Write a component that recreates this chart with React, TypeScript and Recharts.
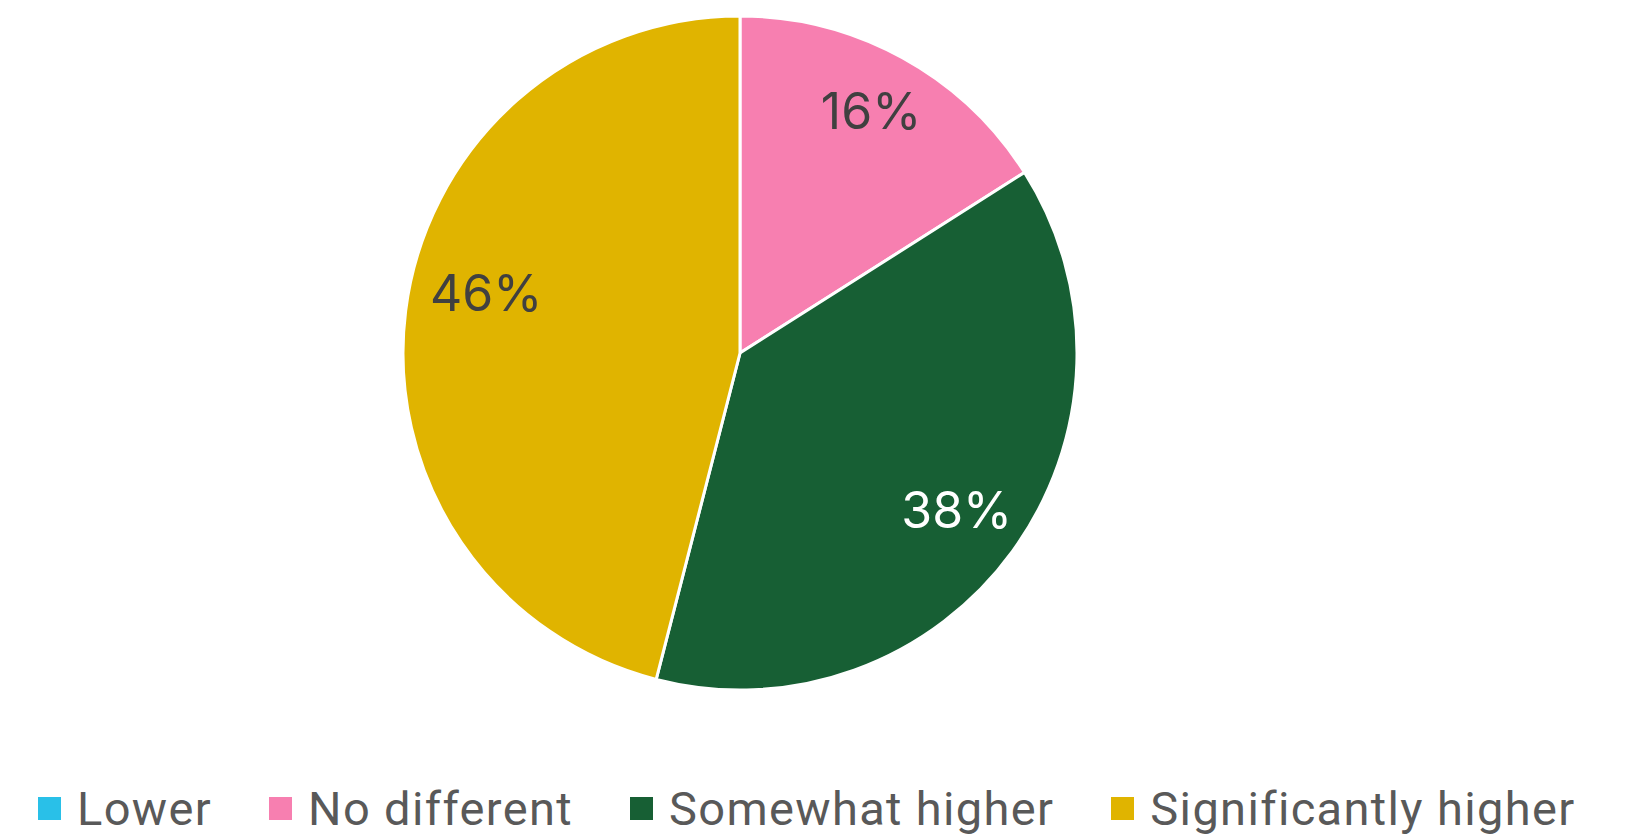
import { PieChart, Pie, Cell, Legend } from 'recharts';

const categories = ['Lower', 'No different', 'Somewhat higher', 'Significantly higher'];
const shares = [0, 16, 38, 46];
const colors = ['#29C0E8', '#F77FB0', '#175F34', '#E0B400'];
const labelColors = ['#404040', '#404040', '#FFFFFF', '#404040'];

const data = categories.map((name, i) => ({ name, value: shares[i] }));

// small nudges so the percentages sit where the original placed them
const labelNudge = [
  [0, 0],
  [2, -7],
  [0, 0],
  [12, -26],
];

const RADIAN = Math.PI / 180;

function renderLabel({ cx, cy, midAngle, outerRadius, value, index }: any) {
  if (!value) return null;
  const r = outerRadius * 0.795;
  const x = cx + r * Math.cos(-midAngle * RADIAN) + labelNudge[index][0];
  const y = cy + r * Math.sin(-midAngle * RADIAN) + labelNudge[index][1];
  return (
    <text
      x={x}
      y={y}
      fill={labelColors[index]}
      fontSize={50}
      fontFamily="Inter, 'Noto Sans', sans-serif"
      textAnchor="middle"
      dominantBaseline="central"
    >
      {value}%
    </text>
  );
}

function LegendContent() {
  return (
    <div style={{ display: 'flex', alignItems: 'center', gap: 57, paddingLeft: 38 }}>
      {categories.map((name, i) => (
        <div key={name} style={{ display: 'flex', alignItems: 'center' }}>
          <span style={{ width: 23, height: 23, background: colors[i], display: 'inline-block', marginRight: 16 }} />
          <span style={{ fontFamily: 'Roboto, sans-serif', fontSize: 47, color: '#595959', lineHeight: '47px', letterSpacing: 1.35 }}>
            {name}
          </span>
        </div>
      ))}
    </div>
  );
}

export default function App() {
  return (
    <div style={{ position: 'absolute', left: 0, top: 0, width: 1630, height: 834, background: '#fff', overflow: 'hidden' }}>
      <PieChart width={1630} height={834} margin={{ top: 0, right: 0, bottom: 0, left: 0 }}>
        <Pie
          data={data}
          dataKey="value"
          nameKey="name"
          cx={740}
          cy={353}
          outerRadius={337}
          startAngle={90}
          endAngle={-270}
          stroke="#ffffff"
          strokeWidth={3}
          label={renderLabel}
          labelLine={false}
          isAnimationActive={false}
        >
          {data.map((d, i) => (
            <Cell key={d.name} fill={colors[i]} />
          ))}
        </Pie>
        <Legend
          content={<LegendContent />}
          wrapperStyle={{ position: 'absolute', left: 0, top: 785, width: 1630 }}
        />
      </PieChart>
    </div>
  );
}
